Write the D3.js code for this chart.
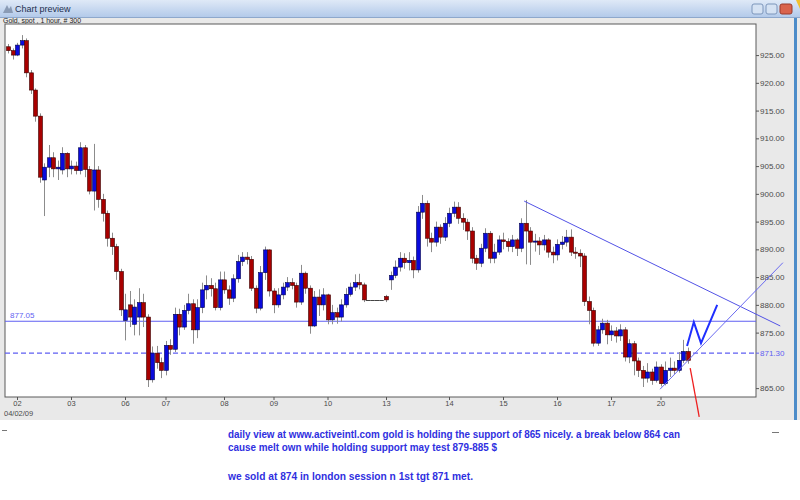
<!DOCTYPE html>
<html><head><meta charset="utf-8">
<script src="https://cdn.jsdelivr.net/npm/d3@7"></script>
<style>body{margin:0;background:#fff;}svg{display:block}</style>
</head><body>
<svg id="chart" width="800" height="500"></svg>
<script>
// ---------- data (Gold, spot, hourly-ish candles) ----------
const opens = [926.5,925.8,925.0,926.8,927.6,921.8,918.7,914.0,902.5,904.8,906.5,904.5,904.3,907.3,904.5,905.0,904.2,908.3,904.4,900.5,
904.3,899.0,896.5,892.0,890.5,886.0,877.2,880.0,876.5,877.8,880.4,877.8,866.5,871.3,869.6,868.2,872.7,872.0,878.3,876.0,
879.0,880.2,875.5,879.5,882.7,883.5,882.9,879.5,884.5,882.7,881.2,884.7,887.8,888.6,888.2,883.0,879.4,885.8,889.9,882.5,
880.0,881.8,883.2,884.0,883.5,880.5,885.7,883.0,876.2,881.4,880.0,881.8,877.3,878.6,877.8,880.0,881.9,883.2,884.0,883.6,
880.9,880.9,880.9,880.9,881.5,884.5,885.3,886.8,888.4,887.6,888.0,886.3,896.7,898.3,892.0,891.3,894.0,892.2,894.7,896.5,
897.6,895.6,894.9,893.3,888.4,887.5,890.2,892.9,888.4,889.5,891.7,891.4,890.5,891.7,890.2,894.7,893.3,891.3,891.5,890.8,
891.7,889.5,889.0,890.9,891.3,892.2,889.5,889.3,888.8,880.6,879.0,873.1,875.5,876.7,874.6,875.3,874.4,875.5,870.6,873.0,
869.9,868.2,866.8,867.9,866.4,868.8,865.8,868.2,868.6,868.2,870.0,871.6];
const highs = [927.0,926.2,927.2,928.6,928.0,922.3,919.0,914.5,905.5,908.8,907.5,906.0,908.4,907.5,906.0,905.8,909.3,908.8,905.0,909.0,
905.0,900.0,897.0,893.0,891.0,886.5,882.0,882.5,881.0,883.0,882.0,878.3,872.5,872.6,870.5,873.5,873.8,879.5,879.3,880.0,
882.0,881.0,881.0,884.0,885.3,884.8,884.0,886.0,886.0,883.5,885.5,889.0,889.5,889.5,888.8,883.5,887.0,890.5,890.0,883.0,
883.0,884.0,885.0,884.8,884.0,887.2,886.0,883.5,882.5,882.8,883.0,882.0,880.0,879.5,881.0,883.0,884.0,885.5,885.6,884.0,
880.9,880.9,880.9,880.9,881.8,886.0,888.0,889.5,889.3,889.5,888.7,897.8,899.8,898.8,893.0,895.0,894.5,895.8,897.5,898.6,
898.5,896.5,895.5,894.0,889.0,891.0,893.8,893.3,891.0,892.5,893.0,892.0,892.6,892.0,895.6,898.9,894.0,892.8,892.2,892.6,
892.0,890.5,891.8,892.4,893.5,893.6,890.4,890.0,889.3,881.5,879.5,876.2,877.5,877.3,876.3,876.0,876.5,876.0,873.8,873.5,
870.5,869.0,869.5,868.5,869.8,869.3,869.8,870.5,869.8,871.5,873.7,872.3];
const lows = [925.3,924.2,924.8,926.2,921.0,918.0,913.0,902.0,896.0,903.0,903.0,902.5,903.5,903.0,903.5,903.5,903.5,903.0,899.9,897.0,
897.5,895.0,890.5,889.0,884.5,878.0,873.6,876.0,874.5,874.5,876.0,865.2,866.0,868.5,866.8,867.3,871.0,871.5,874.5,875.5,
878.3,873.0,874.0,878.5,881.0,881.5,879.0,879.0,882.0,880.0,880.5,884.0,887.0,887.3,882.5,878.5,879.0,884.5,881.5,878.5,
879.5,881.0,882.5,882.8,879.5,880.0,882.0,874.8,876.0,878.0,879.0,876.5,876.5,876.6,877.0,879.5,881.5,882.5,882.8,880.5,
880.9,880.9,880.9,880.9,880.5,882.7,884.8,886.0,886.5,886.2,884.8,885.8,895.5,890.5,889.5,890.5,891.0,891.5,894.0,895.8,
894.6,893.5,891.7,887.5,886.3,886.8,889.5,887.5,887.5,889.0,890.0,889.6,889.5,888.8,889.5,887.3,887.2,889.6,889.0,889.8,
888.5,887.5,888.0,890.0,890.5,888.8,888.3,886.8,879.8,876.5,872.5,872.6,874.8,872.9,873.5,873.2,873.5,869.8,869.5,867.3,
867.0,865.2,866.0,865.6,866.0,865.3,865.5,867.0,867.5,867.8,869.5,869.4];
const closes = [925.8,925.0,926.8,927.6,921.8,918.7,914.0,903.0,904.8,906.5,904.5,904.8,907.3,904.5,905.0,904.2,908.3,904.4,900.5,904.3,
899.0,896.5,892.0,890.5,886.0,879.1,879.1,877.8,879.6,880.4,877.8,866.5,871.3,869.6,868.2,872.7,872.0,878.3,876.0,879.0,
880.2,875.5,879.5,882.7,883.5,882.9,879.5,884.5,882.7,881.2,884.7,887.8,888.6,888.2,883.0,879.4,885.8,889.9,882.5,880.0,
881.8,883.2,884.0,883.5,880.5,885.7,883.0,876.2,881.4,880.0,881.8,877.3,878.6,877.8,880.0,881.9,883.2,884.0,883.6,880.9,
880.9,880.9,880.9,880.9,880.9,885.3,886.8,888.4,887.6,888.0,886.3,896.7,898.3,892.0,891.3,894.0,892.2,894.7,896.5,897.6,
895.6,894.9,893.3,888.4,887.5,890.2,892.9,888.4,889.5,891.7,891.4,890.5,891.7,890.2,894.7,893.3,891.3,891.5,890.8,891.7,
889.5,889.0,890.9,891.3,892.2,889.5,889.3,888.8,880.6,879.0,873.1,875.5,876.7,874.6,875.3,874.4,875.5,870.6,873.0,869.9,
868.2,866.8,867.9,866.4,868.8,865.8,868.2,868.6,868.2,870.0,871.6,870.0];
const dayLabels = ["02","03","06","07","08","09","10","13","14","15","16","17","20"];
const dayIndex  = [2,14,26,35,48,59,71,84,98,110,122,134,145];
const priceTicks = [925,920,915,910,905,900,895,890,885,880,875,865];
const resistanceLevel = 877.05;
const supportLevel = 871.30;
// annotation drawings, as [bar index, price]
const downTrend = [[114.7, 898.7], [171.6, 876.2]];
const upTrend   = [[144.9, 864.8], [172.2, 887.6]];
const projection = [[150.9, 872.6], [152.4, 876.9], [154.0, 873.1], [157.6, 880.0]];
const breakdownArrow = [[151.6, 868.6], [153.6, 859.8]];
const titleText = "Chart preview";
const seriesText = "Gold, spot , 1 hour, # 300";
const startDate = "04/02/09";
const noteLines = [
  "daily view at www.activeintl.com gold is holding the support of 865 nicely. a break below 864 can",
  "cause melt own while holding support may test 879-885 $",
  "",
  "we sold at 874 in london session n 1st tgt 871 met."
];

// ---------- layout ----------
const svg = d3.select("#chart");
const W = 800, H = 500;
const plot = {left: 5, right: 756, top: 24, bottom: 397};
const font = "'Liberation Sans', Arial, sans-serif";
const levelBlue = "#5f5ff2";

svg.append("rect").attr("x",0).attr("y",0).attr("width",W).attr("height",H).attr("fill","#ffffff");
svg.append("rect").attr("x",0).attr("y",0).attr("width",W).attr("height",420).attr("fill","#e9e9e9");

// title bar
const defs = svg.append("defs");
const grad = defs.append("linearGradient").attr("id","tb").attr("x1",0).attr("x2",0).attr("y1",0).attr("y2",1);
grad.append("stop").attr("offset","0%").attr("stop-color","#dfe9f7");
grad.append("stop").attr("offset","100%").attr("stop-color","#b3caea");
svg.append("rect").attr("x",0).attr("y",0).attr("width",W).attr("height",17).attr("fill","url(#tb)");
svg.append("line").attr("x1",0).attr("x2",W).attr("y1",17.5).attr("y2",17.5).attr("stroke","#8ea8cc");
svg.append("path").attr("d","M3,13 L7,5 L9,9 L11,6 L13,13 Z").attr("fill","#8a9bb5");
svg.append("text").attr("x",15).attr("y",12).attr("font-family",font).attr("font-size",9).attr("fill","#1e2e4e").text(titleText);
[752,766].forEach(bx => {
  svg.append("rect").attr("x",bx).attr("y",4).attr("width",11).attr("height",10).attr("rx",2)
    .attr("fill","#d5e2f3").attr("stroke","#7d96bb");
});
svg.append("rect").attr("x",780).attr("y",4).attr("width",12).attr("height",10).attr("rx",2)
  .attr("fill","#d9634d").attr("stroke","#9a3b2c");
svg.append("path").attr("d","M796,0 L800,0 L800,9 Z").attr("fill","#f2c12e");

// right window border
svg.append("rect").attr("x",794).attr("y",18).attr("width",3).attr("height",402).attr("fill","#4c8cc9");

svg.append("text").attr("x",3).attr("y",23).attr("font-family",font).attr("font-size",7.5)
  .attr("fill","#222").attr("textLength",78).attr("lengthAdjust","spacingAndGlyphs").text(seriesText);

// plot area
svg.append("rect").attr("x",plot.left).attr("y",plot.top)
  .attr("width",plot.right-plot.left).attr("height",plot.bottom-plot.top)
  .attr("fill","#ffffff").attr("stroke","#5a5a5a").attr("stroke-width",1);

// scales
const x = d3.scaleLinear().domain([-0.667, 166.22]).range([plot.left, plot.right]);
const y = d3.scaleLinear().domain([863.4, 930.6]).range([plot.bottom, plot.top]);

defs.append("clipPath").attr("id","pc").append("rect")
  .attr("x",plot.left).attr("y",plot.top).attr("width",plot.right-plot.left).attr("height",plot.bottom-plot.top);

// right axis
const yAxis = d3.axisRight(y).tickValues(priceTicks).tickSize(3).tickFormat(d3.format(".2f"));
const gy = svg.append("g").attr("transform",`translate(${plot.right},0)`).call(yAxis);
gy.select(".domain").remove();
gy.selectAll("line").attr("stroke","#555");
gy.selectAll("text").attr("font-family",font).attr("font-size",8).attr("fill","#4a4a4a").attr("x",4);

// bottom axis
const xAxis = d3.axisBottom(x).tickValues(dayIndex).tickSize(3)
  .tickFormat((d,i) => dayLabels[i]);
const gx = svg.append("g").attr("transform",`translate(0,${plot.bottom})`).call(xAxis);
gx.select(".domain").remove();
gx.selectAll("line").attr("stroke","#555");
gx.selectAll("text").attr("font-family",font).attr("font-size",7.5).attr("fill","#4a4a4a")
  .attr("y",3.5);
svg.append("text").attr("x",4).attr("y",416).attr("font-family",font).attr("font-size",7.5).attr("fill","#4a4a4a").text(startDate);

// levels
const gp = svg.append("g").attr("clip-path","url(#pc)");
gp.append("path")
  .attr("d", `M${plot.left},${y(resistanceLevel)}H${plot.right}`)
  .style("stroke", levelBlue).style("stroke-width","1.2px").style("fill","none");
gp.append("path")
  .attr("d", `M${plot.left},${y(supportLevel)}H${plot.right}`)
  .style("stroke", levelBlue).style("stroke-width","1.2px").style("fill","none")
  .style("stroke-dasharray","5,3");
svg.append("text").attr("x",10).attr("y",y(resistanceLevel)-3).attr("font-family",font)
  .attr("font-size",8).attr("fill",levelBlue).text(d3.format(".2f")(resistanceLevel));
svg.append("text").attr("x",plot.right+4).attr("y",y(supportLevel)+3).attr("font-family",font)
  .attr("font-size",8).attr("fill",levelBlue).text(d3.format(".2f")(supportLevel));
svg.append("path").attr("d",`M${plot.right},${y(supportLevel)}h3`).style("stroke",levelBlue);

// candles
const idx = d3.range(opens.length);
const bodyW = 4, step = x(1) - x(0);
gp.selectAll("line.wick").data(idx).join("line").attr("class","wick")
  .attr("x1", i => Math.round(x(i))+0.5).attr("x2", i => Math.round(x(i))+0.5)
  .attr("y1", i => y(highs[i])).attr("y2", i => y(lows[i]))
  .attr("stroke","#8c8c8c").attr("stroke-width",1);
gp.selectAll("rect.body").data(idx.filter(i => opens[i] !== closes[i])).join("rect").attr("class","body")
  .attr("x", i => Math.round(x(i)) - 1.5)
  .attr("width", bodyW)
  .attr("y", i => y(Math.max(opens[i], closes[i])))
  .attr("height", i => Math.max(1, Math.abs(y(opens[i]) - y(closes[i]))))
  .attr("fill", i => closes[i] > opens[i] ? "#0a0adc" : "#a80000")
  .attr("stroke", i => closes[i] > opens[i] ? "#00004a" : "#3a0000")
  .attr("stroke-width",0.6);
gp.selectAll("line.flat").data(idx.filter(i => opens[i] === closes[i])).join("line").attr("class","flat")
  .attr("x1", i => x(i) - step/2).attr("x2", i => x(i) + step/2)
  .attr("y1", i => Math.round(y(closes[i]))+0.5).attr("y2", i => Math.round(y(closes[i]))+0.5)
  .attr("stroke","#444").attr("stroke-width",1);

// trend lines and drawings
const lineGen = d3.line().x(d => x(d[0])).y(d => y(d[1]));
svg.append("path").attr("d", lineGen(downTrend)).attr("fill","none").attr("stroke","#5252e6").attr("stroke-width",1);
svg.append("path").attr("d", lineGen(upTrend)).attr("fill","none").attr("stroke","#6a6af0").attr("stroke-width",1);
svg.append("path").attr("d", lineGen(projection)).attr("fill","none").attr("stroke","#1f2fff").attr("stroke-width",2);
svg.append("path").attr("d", lineGen(breakdownArrow)).attr("fill","none").attr("stroke","#ee2020").attr("stroke-width",1.3);

// small marks at bottom edges
svg.append("line").attr("x1",2).attr("x2",7).attr("y1",430.5).attr("y2",430.5).attr("stroke","#777");
svg.append("line").attr("x1",772).attr("x2",779).attr("y1",432.5).attr("y2",432.5).attr("stroke","#777");

// annotation text
const noteY = [438, 451, 465, 480];
const noteW = [452, 269, 0, 245];
noteLines.forEach((t, i) => {
  if (!t) return;
  svg.append("text").attr("x",228).attr("y",noteY[i]).attr("font-family",font)
    .attr("font-size",11).attr("font-weight","bold").attr("fill","#2f2fe0")
    .attr("textLength",noteW[i]).attr("lengthAdjust","spacingAndGlyphs").text(t);
});
</script>
</body></html>
